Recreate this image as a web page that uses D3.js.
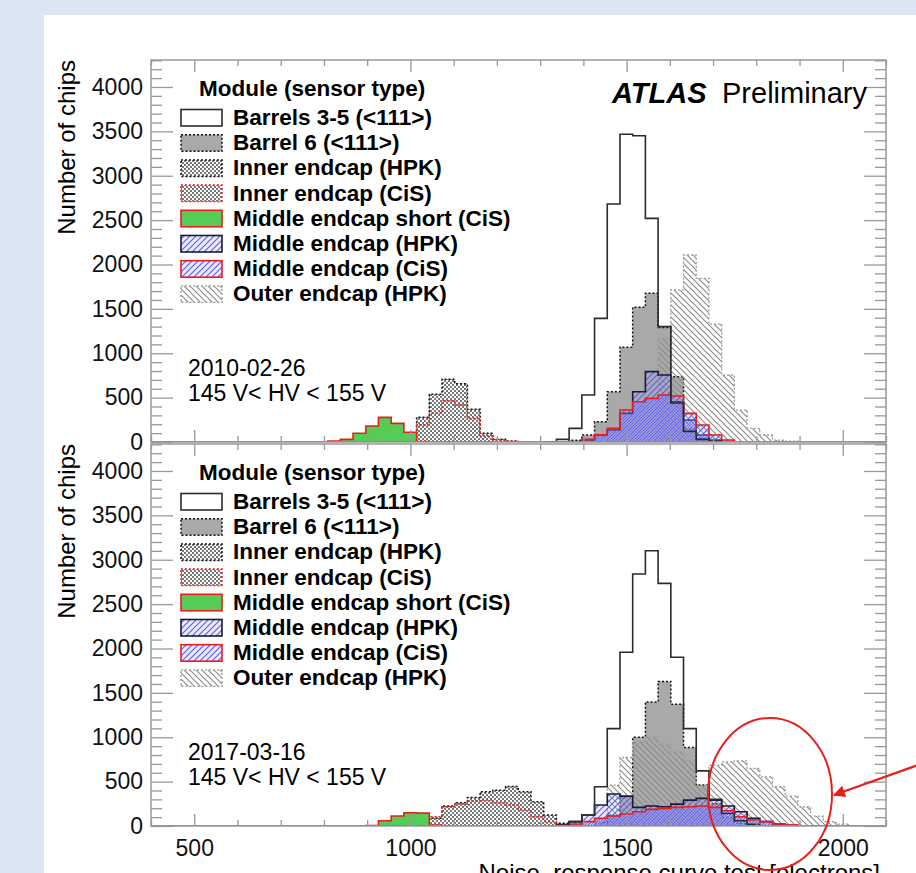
<!DOCTYPE html>
<html>
<head>
<meta charset="utf-8">
<script src="https://cdn.jsdelivr.net/npm/d3@7"></script>
<style>
  body { margin: 0; background: #dce6f2; }
  text { font-family: "Liberation Sans", Arial, Helvetica, sans-serif; }
</style>
</head>
<body>
<div id="chart"></div>
<script>
//defaults for the chart
const width = 916
const height = 873
const frameLeft = 151
const frameRight = 886
const panelTop = 60
const panelHeight = 382
const panelStep = 384

const binWidth = 29.4      // electrons per bin, bin k is centred on k * binWidth
const xDomain = [400, 2100]
const yDomain = [0, 4304]

const seriesNames = ["Barrels 3-5 (<111>)", "Barrel 6 (<111>)", "Inner endcap (HPK)", "Inner endcap (CiS)",
  "Middle endcap short (CiS)", "Middle endcap (HPK)", "Middle endcap (CiS)", "Outer endcap (HPK)"]
const yMajor = [0, 500, 1000, 1500, 2000, 2500, 3000, 3500, 4000]
const xLabels = [500, 1000, 1500, 2000]

// 2010-02-26 : first bin index of each series, then counts per bin
const first2010 = [45, 47, 33, 34, 28, 48, 48, 54]
const barrels35_2010 = [3, 30, 154, 530, 1393, 2682, 3467, 3450, 2520, 1300, 440, 120, 30, 10]
const barrel6_2010 = [20, 79, 229, 567, 1067, 1517, 1675, 1290, 736, 150, 40]
const innerHPK_2010 = [22, 103, 278, 538, 706, 656, 368, 98, 30, 10]
const innerCiS_2010 = [22, 191, 323, 466, 417, 266, 68, 22, 8]
const midShort_2010 = [11, 30, 98, 180, 278, 210, 110, 5]
const midHPK_2010 = [22, 79, 135, 323, 567, 793, 755, 454, 248, 79, 22]
const midCiS_2010 = [30, 80, 154, 360, 454, 492, 530, 518, 323, 191, 79, 22]
const outer_2010 = [1168, 1713, 2107, 1844, 1329, 755, 360, 154, 79, 22, 10]

// 2017-03-16
const first2017 = [46, 49, 33, 34, 31, 46, 46, 49]
const barrels35_2017 = [10, 49, 124, 442, 1097, 1958, 2839, 3101, 2734, 1902, 1097, 621, 300, 140, 60, 20]
const barrel6_2017 = [40, 120, 330, 1000, 1397, 1629, 1372, 884, 461, 250, 100, 30]
const innerHPK_2017 = [20, 49, 75, 86, 225, 262, 322, 386, 404, 445, 386, 273, 124, 30, 8]
const innerCiS_2017 = [10, 37, 105, 217, 247, 281, 292, 262, 236, 180, 105, 49, 10]
const midShort_2017 = [5, 60, 112, 150, 145, 10]
const midHPK_2017 = [15, 49, 124, 236, 360, 337, 210, 225, 217, 247, 292, 311, 292, 225, 161, 86, 49, 22, 8]
const midCiS_2017 = [10, 22, 49, 86, 112, 135, 161, 187, 199, 210, 217, 225, 210, 172, 105, 67, 49, 22, 11]
const outer_2017 = [60, 461, 772, 947, 1004, 922, 835, 734, 461, 685, 722, 734, 648, 554, 442, 337, 217, 112, 49, 22]

const panels = [
  { date: "2010-02-26", hv: "145 V< HV < 155 V", first: first2010,
    counts: [barrels35_2010, barrel6_2010, innerHPK_2010, innerCiS_2010, midShort_2010, midHPK_2010, midCiS_2010, outer_2010] },
  { date: "2017-03-16", hv: "145 V< HV < 155 V", first: first2017,
    counts: [barrels35_2017, barrel6_2017, innerHPK_2017, innerCiS_2017, midShort_2017, midHPK_2017, midCiS_2017, outer_2017] }
]

// look of each series (same order as the names)
const styles = [
  { fill: "none", stroke: "#2b2b2b", dash: null, width: 1.6 },
  { fill: "#a9a9a9", stroke: "#111", dash: "2,2", width: 1.5 },
  { fill: "url(#checker)", stroke: "#111", dash: "2,2", width: 1.5 },
  { fill: "url(#checker)", stroke: "#e8201c", dash: "2,2", width: 1.5 },
  { fill: "#55cc55", stroke: "#e8201c", dash: null, width: 1.6 },
  { fill: "url(#blueHatch)", stroke: "#1a1a3a", dash: null, width: 1.6 },
  { fill: "url(#blueHatch2)", stroke: "#f01a1a", dash: null, width: 1.6 },
  { fill: "url(#grayHatch)", stroke: "#9a9a9a", dash: "2,2", width: 1.3 }
]
const drawOrder = [1, 7, 2, 3, 4, 5, 6, 0]

const svg = d3.select('#chart')
  .append('svg')
  .attr('width', width)
  .attr('height', height)

svg.append('rect')
  .attr('x', 44).attr('y', 15)
  .attr('width', width - 44).attr('height', height - 15)
  .attr('fill', '#fff')

// fill patterns
const defs = svg.append('defs')
const checker = defs.append('pattern').attr('id', 'checker')
  .attr('patternUnits', 'userSpaceOnUse').attr('width', 4).attr('height', 4)
checker.append('rect').attr('width', 2).attr('height', 2).attr('fill', '#777')
checker.append('rect').attr('x', 2).attr('y', 2).attr('width', 2).attr('height', 2).attr('fill', '#777')

const hatch = function (id, color, dir, offset, tint) {
  const p = defs.append('pattern').attr('id', id)
    .attr('patternUnits', 'userSpaceOnUse').attr('width', 6).attr('height', 6)
    .attr('x', offset)
  if (tint) p.append('rect').attr('width', 6).attr('height', 6).attr('fill', tint)
  const d = dir > 0 ? "M-1,7 L7,-1 M-1,1 L1,-1 M5,7 L7,5" : "M-1,-1 L7,7 M-1,5 L1,7 M5,-1 L7,1"
  p.append('path').attr('d', d).attr('stroke', color).attr('stroke-width', 1.1)
}
hatch('blueHatch', '#5b5bf0', 1, 0, 'rgba(170,170,255,0.25)')
hatch('blueHatch2', '#5b5bf0', 1, 3, 'rgba(170,170,255,0.25)')
hatch('grayHatch', '#8a8a8a', -1, 0)

const x = d3.scaleLinear().domain(xDomain).range([frameLeft, frameRight])
const binEdge = k => (k - 0.5) * binWidth

const drawPanel = function (panel, p) {
  const top = panelTop + p * panelStep
  const bottom = top + panelHeight
  const y = d3.scaleLinear().domain(yDomain).range([bottom, top])
  const g = svg.append('g')

  g.append('clipPath').attr('id', 'clip' + p)
    .append('rect').attr('x', frameLeft).attr('y', top)
    .attr('width', frameRight - frameLeft).attr('height', panelHeight)

  const line = d3.line()
    .x(d => x(d[0]))
    .y(d => y(d[1]))
    .curve(d3.curveStepAfter)

  const hists = g.append('g').attr('clip-path', 'url(#clip' + p + ')')

  drawOrder.forEach(s => {
    const first = panel.first[s]
    const counts = panel.counts[s]
    const pts = [[binEdge(first), 0]]
    counts.forEach((c, i) => pts.push([binEdge(first + i), c]))
    pts.push([binEdge(first + counts.length), 0])
    const st = styles[s]
    hists.append('path')
      .attr('d', line(pts))
      .attr('fill', st.fill)
      .attr('stroke', st.stroke)
      .attr('stroke-width', st.width)
      .attr('stroke-dasharray', st.dash)
  })

  // histogram outlines running along zero
  hists.append('line')
    .attr('x1', frameLeft).attr('x2', frameRight)
    .attr('y1', y(0)).attr('y2', y(0))
    .attr('stroke', '#b84a4a').attr('stroke-width', 2).attr('opacity', 0.8)

  // frame and ticks
  const axisColor = '#999'
  const yMinor = d3.range(0, 4301, 100).filter(v => v % 500 != 0)
  const xMinor = d3.range(400, 2101, 100).filter(v => v % 500 != 0)

  const axes = [
    [d3.axisLeft(y).tickValues(yMajor).tickSize(-22).tickPadding(8).tickFormat(d3.format('d')), frameLeft, 0],
    [d3.axisLeft(y).tickValues(yMinor).tickSize(-11).tickFormat(''), frameLeft, 0],
    [d3.axisRight(y).tickValues(yMajor).tickSize(-22).tickFormat(''), frameRight, 0],
    [d3.axisRight(y).tickValues(yMinor).tickSize(-11).tickFormat(''), frameRight, 0],
    [d3.axisBottom(x).tickValues(xLabels).tickSize(-12).tickPadding(14).tickFormat(p == 1 ? d3.format('d') : ''), 0, bottom],
    [d3.axisBottom(x).tickValues(xMinor).tickSize(-6).tickFormat(''), 0, bottom],
    [d3.axisTop(x).tickValues(xLabels).tickSize(-12).tickFormat(''), 0, top],
    [d3.axisTop(x).tickValues(xMinor).tickSize(-6).tickFormat(''), 0, top]
  ]
  axes.forEach(a => {
    const ag = g.append('g').attr('transform', 'translate(' + a[1] + ',' + a[2] + ')').call(a[0])
    ag.select('.domain').remove()
    ag.selectAll('line').attr('stroke', axisColor).attr('stroke-width', 1.3)
    ag.selectAll('text').attr('font-size', 23).attr('fill', '#111')
      .style('font-family', '"Liberation Sans", Arial, sans-serif')
  })

  g.append('rect')
    .attr('x', frameLeft).attr('y', top)
    .attr('width', frameRight - frameLeft).attr('height', panelHeight)
    .attr('fill', 'none').attr('stroke', axisColor).attr('stroke-width', 1.5)

  g.append('text')
    .attr('transform', 'translate(75,' + top + ') rotate(-90)')
    .attr('text-anchor', 'end')
    .attr('font-size', 24)
    .text('Number of chips')

  // legend
  const off = p * panelStep
  g.append('text')
    .attr('x', 199).attr('y', 96 + off)
    .attr('font-size', 22.5).attr('font-weight', 'bold')
    .text('Module (sensor type)')

  seriesNames.forEach((name, i) => {
    const cy = 117.5 + i * 25.2 + off
    const st = styles[i]
    g.append('rect')
      .attr('x', 181).attr('y', cy - 8)
      .attr('width', 41).attr('height', 16.5)
      .attr('fill', st.fill == 'none' ? '#fff' : st.fill)
      .attr('stroke', st.stroke)
      .attr('stroke-width', st.width)
      .attr('stroke-dasharray', st.dash)
    g.append('text')
      .attr('x', 233).attr('y', cy + 7.5)
      .attr('font-size', 22.5).attr('font-weight', 'bold')
      .text(name)
  })

  g.append('text').attr('x', 188).attr('y', 376 + off).attr('font-size', 23).text(panel.date)
  g.append('text').attr('x', 188).attr('y', 401 + off).attr('font-size', 23).text(panel.hv)
}

panels.forEach(drawPanel)

// ATLAS label
svg.append('text').attr('x', 612).attr('y', 103).attr('font-size', 29)
  .attr('font-weight', 'bold').attr('font-style', 'italic').text('ATLAS')
svg.append('text').attr('x', 722).attr('y', 103).attr('font-size', 29).text('Preliminary')

// axis title, cut by the bottom of the picture as in the original
svg.append('text')
  .attr('x', 880).attr('y', 881)
  .attr('text-anchor', 'end').attr('font-size', 24)
  .text('Noise, response curve test [electrons]')

// hand drawn annotation
svg.append('defs').append('marker').attr('id', 'arrow')
  .attr('viewBox', '0 0 10 10').attr('refX', 9).attr('refY', 5)
  .attr('markerWidth', 16).attr('markerHeight', 12).attr('orient', 'auto')
  .attr('markerUnits', 'userSpaceOnUse')
  .append('path').attr('d', 'M0,0 L10,5 L0,10 z').attr('fill', '#e8201c')

svg.append('ellipse')
  .attr('cx', 770).attr('cy', 794).attr('rx', 62).attr('ry', 76)
  .attr('fill', 'none').attr('stroke', '#e8201c').attr('stroke-width', 2)

svg.append('line')
  .attr('x1', 935).attr('y1', 759).attr('x2', 834).attr('y2', 795)
  .attr('stroke', '#e8201c').attr('stroke-width', 2.2)
  .attr('marker-end', 'url(#arrow)')
</script>
</body>
</html>
